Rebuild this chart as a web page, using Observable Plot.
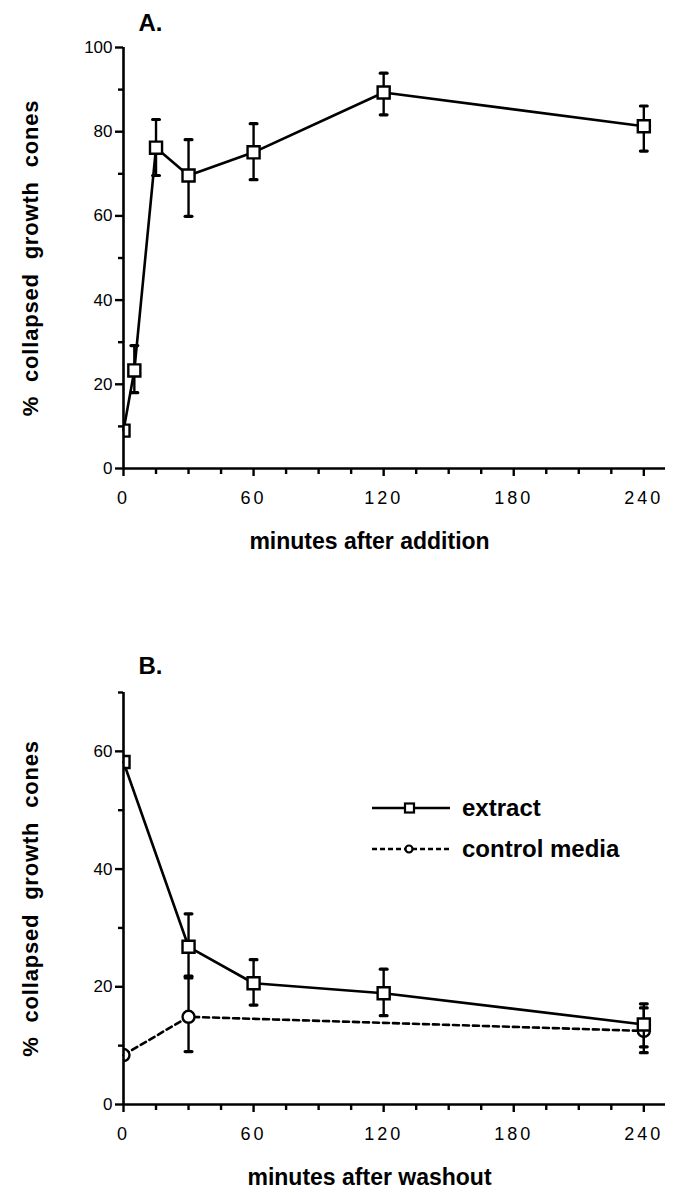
<!DOCTYPE html>
<html>
<head>
<meta charset="utf-8">
<script src="https://cdn.jsdelivr.net/npm/d3@7"></script>
<script src="https://cdn.jsdelivr.net/npm/@observablehq/plot@0.6"></script>
<style>
  html, body { margin: 0; padding: 0; background: #fff; }
  #root { position: relative; width: 676px; height: 1193px; overflow: hidden; background: #fff;
          font-family: "Liberation Sans", Arial, Helvetica, sans-serif; }
  .panel { position: absolute; left: 0; }
  .panel svg { overflow: visible; }
  g[aria-label="x-axis tick label"] text { letter-spacing: 3px; }
  .legend { position: absolute; left: 372px; }
  .legend .row { position: absolute; left: 0; display: flex; align-items: center; white-space: nowrap;
                 font-weight: bold; font-size: 24px; height: 26px; }
  .legend svg { display: block; margin-right: 12px; }
</style>
</head>
<body>
<div id="root"></div>
<script>
// ---------- data ----------
// Panel A: minutes after addition
const timesA      = [0, 5, 15, 30, 60, 120, 240];
const collapsedA  = [9, 23.3, 76.2, 69.6, 75.1, 89.3, 81.3];
const lowA        = [null, 18, 69.6, 59.9, 68.6, 84.0, 75.4];
const highA       = [null, 29.2, 82.9, 78.1, 81.9, 93.9, 86.1];

// Panel B: minutes after washout
const timesExtractB = [0, 30, 60, 120, 240];
const extractB      = [58.2, 26.8, 20.6, 18.9, 13.6];
const extractLowB   = [null, 21.5, 16.9, 15.1, 9.8];
const extractHighB  = [null, 32.4, 24.6, 23.0, 17.1];

const timesControlB = [0, 30, 240];
const controlB      = [8.4, 14.9, 12.5];
const controlLowB   = [null, 9.0, 8.8];
const controlHighB  = [null, 21.8, 16.4];

const seriesNames = ["extract", "control media"];

// axes
const xTickLabels = [0, 60, 120, 180, 240];
const xMinorTicks = [15, 30, 45, 75, 90, 105, 135, 150, 165, 195, 210, 225];
const yTickLabelsA = [0, 20, 40, 60, 80, 100];
const yMinorA      = [10, 30, 50, 70, 90];
const yTickLabelsB = [0, 20, 40, 60];
const yMinorB      = [10, 30, 50, 70];

const xTitleA = "minutes after addition";
const xTitleB = "minutes after washout";
const yTitle  = "% collapsed growth cones";

// ---------- helpers ----------
function rows(t, v, lo, hi) {
  return t.map((d, i) => ({t: d, v: v[i], lo: lo[i], hi: hi[i]}));
}
const capSymbol = {
  draw(context, size) {
    const h = Math.sqrt(size / Math.PI);
    context.moveTo(-h, 0);
    context.lineTo(h, 0);
  }
};

function seriesMarks(data, {symbol, r, dash}) {
  const err = data.filter(d => d.lo != null);
  return [
    Plot.line(data, {x: "t", y: "v", stroke: "black", strokeWidth: 2.6, strokeDasharray: dash}),
    Plot.ruleX(err, {x: "t", y1: "lo", y2: "hi", stroke: "black", strokeWidth: 2.4}),
    Plot.dot(err, {x: "t", y: "lo", symbol: capSymbol, r: 3.4, fill: "none", stroke: "black", strokeWidth: 3.2, strokeLinecap: "round"}),
    Plot.dot(err, {x: "t", y: "hi", symbol: capSymbol, r: 3.4, fill: "none", stroke: "black", strokeWidth: 3.2, strokeLinecap: "round"}),
    Plot.dot(data, {x: "t", y: "v", symbol, r, fill: "white", stroke: "black", strokeWidth: 2.4, clip: true})
  ];
}

function panel({letter, letterDy, series, yDomain, yMajor, yMinor, xTitle, height, marginTop, marginBottom}) {
  const svg = Plot.plot({
    width: 676,
    height,
    marginLeft: 123,
    marginRight: 11,
    marginTop,
    marginBottom,
    style: {fontFamily: "'Liberation Sans', Arial, Helvetica, sans-serif", background: "white", color: "black"},
    x: {domain: [0, 250], label: null},
    y: {domain: yDomain, label: null},
    marks: [
      ...series,
      Plot.ruleX([0], {stroke: "black", strokeWidth: 2.6}),
      Plot.ruleY([0], {stroke: "black", strokeWidth: 2.6}),
      Plot.axisY({ticks: yMajor, tickSize: 8, tickPadding: 3, fontSize: 17, strokeWidth: 2.4, label: null}),
      Plot.axisY({ticks: yMinor, tickSize: 5, tickFormat: () => "", strokeWidth: 2.4, label: null}),
      Plot.axisX({ticks: xTickLabels, tickSize: 8, tickPadding: 15, fontSize: 18, strokeWidth: 2.4, label: null}),
      Plot.axisX({ticks: xMinorTicks, tickSize: 6, tickFormat: () => "", strokeWidth: 2.4, label: null}),
      Plot.text([letter], {frameAnchor: "top-left", dx: 15, dy: letterDy, lineAnchor: "bottom", textAnchor: "start",
                           fontSize: 24, fontWeight: "bold"}),
      Plot.text([yTitle], {frameAnchor: "left", textAnchor: "middle", lineAnchor: "middle", rotate: -90, dx: -93,
                           fontSize: 22, fontWeight: "bold"}),
      Plot.text([xTitle], {frameAnchor: "bottom", textAnchor: "middle", lineAnchor: "middle", dy: 73, dx: -25,
                           fontSize: 23, fontWeight: "bold"})
    ]
  });
  // widen the rotated y title's spacing, as in the printed figure
  svg.querySelectorAll("text").forEach(t => {
    if (t.textContent === yTitle) {
      t.style.letterSpacing = "0.8px";
      t.style.wordSpacing = "7px";
    }
  });
  return svg;
}

// ---------- render ----------
const root = document.getElementById("root");

const plotA = panel({
  letter: "A.", letterDy: -17,
  series: seriesMarks(rows(timesA, collapsedA, lowA, highA), {symbol: "square", r: 6.8}),
  yDomain: [0, 100], yMajor: yTickLabelsA, yMinor: yMinorA,
  xTitle: xTitleA, height: 600, marginTop: 47, marginBottom: 132
});
const divA = document.createElement("div");
divA.className = "panel"; divA.style.top = "0px";
divA.appendChild(plotA); root.appendChild(divA);

const plotB = panel({
  letter: "B.", letterDy: -19,
  series: [
    ...seriesMarks(rows(timesControlB, controlB, controlLowB, controlHighB), {symbol: "circle", r: 6, dash: "6,4"}),
    ...seriesMarks(rows(timesExtractB, extractB, extractLowB, extractHighB), {symbol: "square", r: 6.8})
  ],
  yDomain: [0, 70], yMajor: yTickLabelsB, yMinor: yMinorB,
  xTitle: xTitleB, height: 593, marginTop: 92, marginBottom: 89
});
const divB = document.createElement("div");
divB.className = "panel"; divB.style.top = "600px";
divB.appendChild(plotB); root.appendChild(divB);

// legend (panel B)
const legend = document.createElement("div");
legend.className = "legend";
legend.style.top = "795px";
const swatches = [
  `<svg width="78" height="14"><line x1="0" y1="7" x2="78" y2="7" stroke="#000" stroke-width="2.6"/><rect x="33" y="2.5" width="9" height="9" fill="#fff" stroke="#000" stroke-width="2.2"/></svg>`,
  `<svg width="78" height="14"><line x1="0" y1="7" x2="78" y2="7" stroke="#000" stroke-width="2.4" stroke-dasharray="5,3"/><circle cx="37" cy="7" r="3.5" fill="#fff" stroke="#000" stroke-width="2.2"/></svg>`
];
seriesNames.forEach((name, i) => {
  const row = document.createElement("div");
  row.className = "row";
  row.style.top = (i * 41) + "px";
  row.innerHTML = swatches[i] + `<span>${name}</span>`;
  legend.appendChild(row);
});
root.appendChild(legend);
</script>
</body>
</html>
